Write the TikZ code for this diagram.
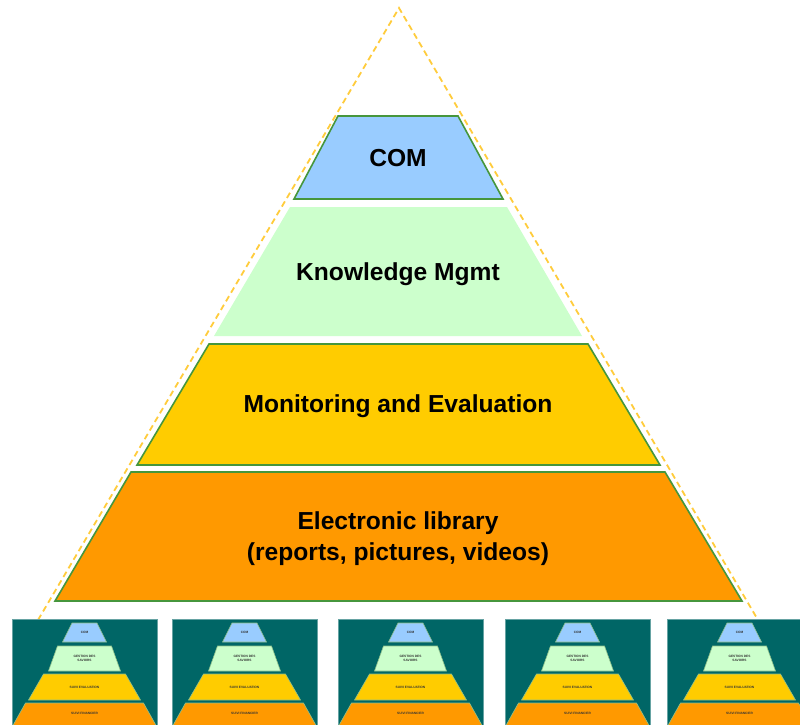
\documentclass[tikz,border=0pt]{standalone}
\usepackage{fontspec}
\setmainfont{Liberation Sans}
\definecolor{edgegreen}{RGB}{70,150,60}
\definecolor{dashgold}{RGB}{255,204,60}
\definecolor{comblue}{RGB}{153,204,255}
\definecolor{kmgreen}{RGB}{204,255,204}
\definecolor{meyellow}{RGB}{255,204,0}
\definecolor{elorange}{RGB}{255,153,0}
\definecolor{teal}{RGB}{0,102,102}
\begin{document}
\begin{tikzpicture}[x=1pt,y=-1pt,
  lvl/.style={draw=edgegreen, line width=1.6pt, line join=miter},
  lbl/.style={font=\fontsize{24.6}{31}\selectfont\bfseries, align=center, text=black, inner sep=0pt},
  slvl/.style={draw=edgegreen!60!white, line width=0.6pt},
  slbl/.style={font=\fontsize{3.2}{3.8}\selectfont\bfseries, align=center, inner sep=0pt, text=black!80},
  guide/.style={draw=dashgold, line width=1.8pt, dash pattern=on 6pt off 4pt},
  panel/.style={fill=teal, draw=teal!60!white, line width=0.5pt}]
\useasboundingbox (0,0) rectangle (800,724);
\clip (0,0) rectangle (800,724);
\fill[white] (0,0) rectangle (800,724);

% dashed guide triangle
\coordinate (apex) at (399,8);
\coordinate (bl) at (38,620);
\coordinate (br) at (758,620);
\draw[guide] (bl) -- (apex) -- (br);

% big pyramid levels
\fill[comblue] (338,116) -- (458,116) -- (503,199) -- (294,199) -- cycle;
\draw[lvl] (338,116) -- (458,116) -- (503,199) -- (294,199) -- cycle;
\fill[kmgreen] (290,207) -- (507,207) -- (582,336) -- (214,336) -- cycle;
\fill[meyellow] (209,344) -- (588,344) -- (660,465) -- (137,465) -- cycle;
\draw[lvl] (209,344) -- (588,344) -- (660,465) -- (137,465) -- cycle;
\fill[elorange] (131,472) -- (665,472) -- (742,601) -- (55,601) -- cycle;
\draw[lvl] (131,472) -- (665,472) -- (742,601) -- (55,601) -- cycle;

\node[lbl] (com) at (398,158) {COM};
\node[lbl] (km) at (398,274) {Knowledge Mgmt};
\node[lbl] (me) at (398,406) {Monitoring and Evaluation};
\node[lbl] (el) at (398,539) {Electronic library\\(reports, pictures, videos)};

% small pyramids
\foreach \c [count=\i] in {84.5,244.5,410.5,577.5,739.5}{
  \fill[panel] ({\c-72.5},619) rectangle ({\c+72.5},730);
  \filldraw[slvl, fill=comblue] ({\c-12.5},623) -- ({\c+12.5},623) -- ({\c+22},642) -- ({\c-22},642) -- cycle;
  \filldraw[slvl, fill=kmgreen] ({\c-27},646) -- ({\c+27},646) -- ({\c+36},671) -- ({\c-36},671) -- cycle;
  \filldraw[slvl, fill=meyellow] ({\c-41},674) -- ({\c+41},674) -- ({\c+56},700) -- ({\c-56},700) -- cycle;
  \filldraw[slvl, fill=elorange] ({\c-59},703) -- ({\c+59},703) -- ({\c+73},728) -- ({\c-73},728) -- cycle;
  \node[slbl] (scom\i) at (\c,632.5) {COM};
  \node[slbl] (sgds\i) at (\c,658.5) {GESTION DES\\SAVOIRS};
  \node[slbl] (sse\i) at (\c,687) {SUIVI EVALUATION};
  \node[slbl] (ssf\i) at (\c,713) {SUIVI FINANCIER};
}
\end{tikzpicture}
\end{document}
